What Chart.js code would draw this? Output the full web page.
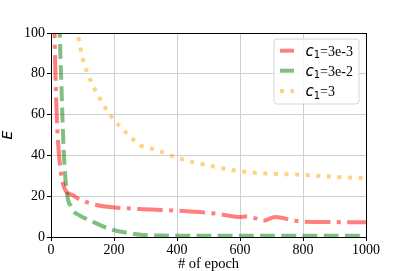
<!DOCTYPE html>
<html><head><meta charset="utf-8">
<script src="https://cdn.jsdelivr.net/npm/chart.js@4/dist/chart.umd.min.js"></script>
<style>html,body{margin:0;padding:0;background:#fff}#wrap{width:407px;height:271px;position:relative}</style>
</head><body><div id="wrap"><canvas id="c" width="407" height="271"></canvas></div>
<script>
const epochsRed = [10, 14, 17, 20, 24, 30, 40, 50, 67, 90, 120, 156, 200, 283, 400, 526, 600, 621, 653, 674, 711, 770, 801, 900, 1000];
const valuesRed = [110, 80, 65, 53, 43, 33, 25, 22, 20.7, 18.5, 16.7, 15.3, 14.5, 13.7, 12.9, 11.4, 9.8, 10, 9, 8, 9.8, 8.1, 7.5, 7.3, 7.2];
const epochsGreen = [27, 30, 33, 37, 40, 45, 54, 64, 72, 88, 125, 193, 246, 283, 350, 500, 1000];
const valuesGreen = [105, 88, 75, 55, 43, 30, 18.3, 15, 12.5, 10.8, 8, 3.6, 2, 1.1, 0.7, 0.6, 0.6];
const epochsOrange = [80, 88, 103, 125, 151, 183, 204, 246, 283, 331, 389, 421, 542, 600, 701, 796, 900, 1000];
const valuesOrange = [103, 97, 86, 77, 69, 60.8, 56.7, 50, 45, 42.8, 39.5, 37.9, 33.8, 32.2, 31, 30.5, 29.5, 28.8];
const seriesLabels = ['3e-3', '3e-2', '3'];
const xTicks = [0, 200, 400, 600, 800, 1000];
const yTicks = [0, 20, 40, 60, 80, 100];

const colors = ['rgba(255,0,0,0.5)', 'rgba(0,128,0,0.5)', 'rgba(255,165,0,0.5)'];
const dashes = [[25.6, 6.4, 4, 6.4], [14.8, 6.4], [4, 6.6]];

function pts(xs, ys){ return xs.map((x,i)=>({x:x, y:ys[i]})); }

const serif = "'Liberation Serif', 'DejaVu Serif', serif";

const framePlugin = {
  id:'frame',
  afterDatasetsDraw(chart){
    const ctx = chart.ctx, a = chart.chartArea;
    ctx.save();
    ctx.strokeStyle = '#000'; ctx.lineWidth = 1;
    ctx.strokeRect(Math.round(a.left)+0.5, Math.round(a.top)+0.5, Math.round(a.right-a.left), Math.round(a.bottom-a.top));
    ctx.restore();
  },
  afterDraw(chart){
    const ctx = chart.ctx;
    const bx = 274, by = 39, bw = 85, bh = 65, r = 3;
    ctx.save();
    ctx.beginPath();
    ctx.moveTo(bx+r, by); ctx.lineTo(bx+bw-r, by); ctx.quadraticCurveTo(bx+bw, by, bx+bw, by+r);
    ctx.lineTo(bx+bw, by+bh-r); ctx.quadraticCurveTo(bx+bw, by+bh, bx+bw-r, by+bh);
    ctx.lineTo(bx+r, by+bh); ctx.quadraticCurveTo(bx, by+bh, bx, by+bh-r);
    ctx.lineTo(bx, by+r); ctx.quadraticCurveTo(bx, by, bx+r, by); ctx.closePath();
    ctx.fillStyle = 'rgba(255,255,255,0.8)'; ctx.fill();
    ctx.strokeStyle = '#d6d6d6'; ctx.lineWidth = 1; ctx.stroke();
    const rows = [50.7, 70.7, 91];
    seriesLabels.forEach((lab, i) => {
      const y = rows[i];
      ctx.beginPath();
      ctx.setLineDash(i === 2 ? [4, 6.6] : []);
      ctx.strokeStyle = colors[i]; ctx.lineWidth = 4;
      ctx.moveTo(280, y); ctx.lineTo(294, y); ctx.stroke();
      ctx.setLineDash([]);
      ctx.fillStyle = '#000'; ctx.textBaseline = 'alphabetic'; ctx.textAlign = 'left';
      let x = 305.5;
      ctx.font = "italic 15px 'DejaVu Sans'";
      ctx.fillText('c', x, y + 5); x += ctx.measureText('c').width;
      ctx.font = "10px 'DejaVu Sans'";
      ctx.fillText('1', x, y + 7.5); x += ctx.measureText('1').width;
      ctx.font = "14px " + serif;
      ctx.fillText('=' + lab, x, y + 5);
    });
    ctx.restore();
  }
};

new Chart(document.getElementById('c'), {
  type: 'line',
  data: {
    datasets: [
      { label: 'c1=' + seriesLabels[0], data: pts(epochsRed, valuesRed), borderColor: colors[0], borderDash: dashes[0], borderWidth: 4, pointRadius: 0, cubicInterpolationMode: 'monotone', fill: false },
      { label: 'c1=' + seriesLabels[1], data: pts(epochsGreen, valuesGreen), borderColor: colors[1], borderDash: dashes[1], borderWidth: 4, pointRadius: 0, cubicInterpolationMode: 'monotone', fill: false },
      { label: 'c1=' + seriesLabels[2], data: pts(epochsOrange, valuesOrange), borderColor: colors[2], borderDash: dashes[2], borderWidth: 4, pointRadius: 0, cubicInterpolationMode: 'monotone', fill: false }
    ]
  },
  options: {
    responsive: false, animation: false,
    layout: { padding: { left: 0, top: 33, right: 41, bottom: 0 } },
    plugins: { legend: { display: false }, tooltip: { enabled: false } },
    scales: {
      x: {
        type: 'linear', min: 0, max: 1000,
        afterBuildTicks(s){ s.ticks = xTicks.map(v=>({value:v})); },
        afterFit(s){ s.height = 34; },
        grid: { color: '#cfcfcf', lineWidth: 1, tickColor: '#000', tickLength: 4 },
        border: { color: '#000', width: 1 },
        ticks: { color: '#000', font: { family: serif, size: 14 }, padding: 1, maxRotation: 0, callback: v => String(v) },
        title: { display: true, text: '# of epoch', color: '#000', font: { family: serif, size: 14.5, lineHeight: 1 }, padding: { top: 0, bottom: 0 } }
      },
      y: {
        type: 'linear', min: 0, max: 100,
        afterBuildTicks(s){ s.ticks = yTicks.map(v=>({value:v})); },
        afterFit(s){ s.width = 51; },
        grid: { color: '#cfcfcf', lineWidth: 1, tickColor: '#000', tickLength: 4 },
        border: { color: '#000', width: 1 },
        ticks: { color: '#000', font: { family: serif, size: 14 }, padding: 2, callback: v => String(v) },
        title: { display: true, text: 'E', color: '#000', font: { family: "'DejaVu Sans'", size: 14, style: 'italic' }, padding: { top: 0, bottom: 0 } }
      }
    }
  },
  plugins: [framePlugin]
});
</script></body></html>
